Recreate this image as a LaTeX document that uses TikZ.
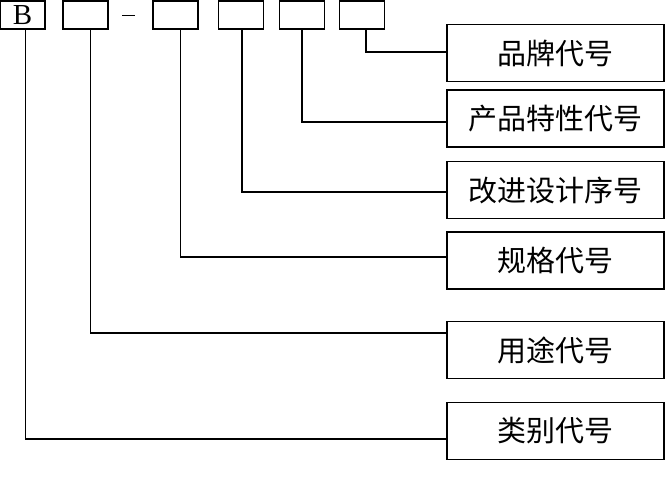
\documentclass[tikz,border=0pt]{standalone}
\usepackage{fontspec}
\newfontfamily\cjk{Noto Sans CJK SC}
\newfontfamily\latin{Liberation Serif}

\begin{document}
\begin{tikzpicture}[
  x=1pt, y=-1pt,
  code/.style={draw, line width=1.2pt, minimum width=45pt, minimum height=28pt, inner sep=0pt, font=\latin\fontsize{29}{29}\selectfont},
  item/.style={draw, line width=1.3pt, minimum width=217pt, minimum height=57pt, inner sep=0pt, font=\cjk\fontsize{29}{29}\selectfont},
  link/.style={line width=1.2pt}
]
\useasboundingbox (0,0) rectangle (665,488);

\node[code] (cls) at (22.5,15) {B};
\node[code] (use) at (85.5,15) {};
\node[inner sep=0pt] (sep) at (128.5,15) {\rule{13pt}{1pt}};
\node[code] (spec) at (175.5,15) {};
\node[code] (rev) at (241,15) {};
\node[code] (feat) at (302,15) {};
\node[code] (brand) at (362,15) {};

\node[item] (brandT) at (555.5,53) {品牌代号};
\node[item] (featT) at (555.5,118.5) {产品特性代号};
\node[item] (revT) at (555.5,190) {改进设计序号};
\node[item] (specT) at (555.5,260.5) {规格代号};
\node[item] (useT) at (555.5,350) {用途代号};
\node[item] (clsT) at (555.5,431) {类别代号};

\coordinate (brandJ) at (447,52);
\coordinate (featJ) at (447,122);
\coordinate (revJ) at (447,192);
\coordinate (specJ) at (447,257);
\coordinate (useJ) at (447,333);
\coordinate (clsJ) at (447,439);

\draw[link] ([xshift=4pt]brand.south) |- (brandJ);
\draw[link] (feat.south) |- (featJ);
\draw[link] ([xshift=1pt]rev.south) |- (revJ);
\draw[link] ([xshift=5pt]spec.south) |- (specJ);
\draw[link] ([xshift=5pt]use.south) |- (useJ);
\draw[link] ([xshift=3pt]cls.south) |- (clsJ);
\end{tikzpicture}
\end{document}
